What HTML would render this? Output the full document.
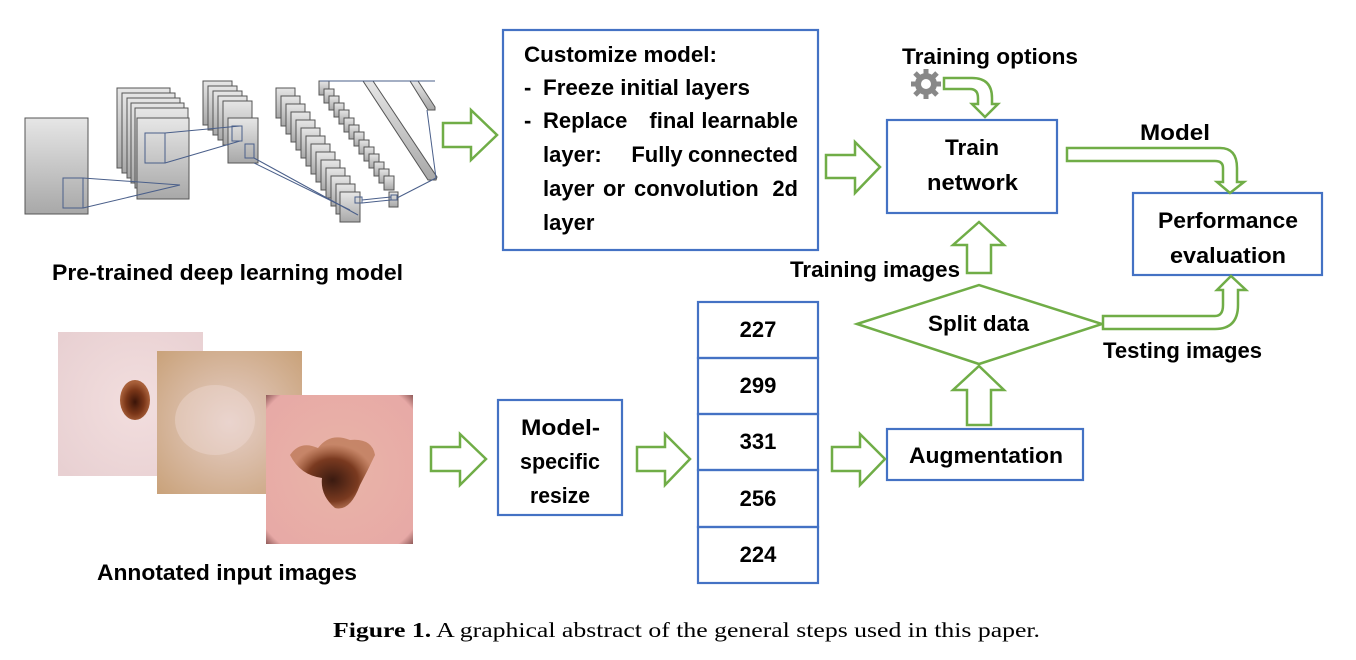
<!DOCTYPE html>
<html><head><meta charset="utf-8"><style>
html,body{margin:0;padding:0;background:#fff;}
svg{display:block}
text{font-family:"Liberation Sans",Arial,sans-serif;font-weight:bold;fill:#000;}
</style></head><body>
<svg width="1356" height="660" viewBox="0 0 1356 660" xmlns="http://www.w3.org/2000/svg">
<defs>
<linearGradient id="gr" x1="0" y1="0" x2="0" y2="1"><stop offset="0" stop-color="#e6e6e6"/><stop offset="1" stop-color="#a8a8a8"/></linearGradient>
<radialGradient id="s1" cx="0.55" cy="0.5" r="0.7"><stop offset="0" stop-color="#f2dede"/><stop offset="1" stop-color="#e8d0d2"/></radialGradient>
<radialGradient id="les1" cx="0.5" cy="0.55" r="0.5"><stop offset="0" stop-color="#3a1408"/><stop offset="0.6" stop-color="#7a3618"/><stop offset="1" stop-color="#a8603a"/></radialGradient>
<radialGradient id="s2" cx="0.5" cy="0.5" r="0.7"><stop offset="0" stop-color="#e6cfc8"/><stop offset="1" stop-color="#c9a27a"/></radialGradient>
<radialGradient id="s3" cx="0.5" cy="0.5" r="0.75"><stop offset="0" stop-color="#e9b5a8"/><stop offset="0.85" stop-color="#e7a9a6"/><stop offset="1" stop-color="#5a2a2a"/></radialGradient>
<radialGradient id="les3" cx="0.5" cy="0.6" r="0.5"><stop offset="0" stop-color="#3a1a10"/><stop offset="0.6" stop-color="#7a3a20"/><stop offset="1" stop-color="#b0683e" stop-opacity="0.6"/></radialGradient>
</defs>

<g stroke="#555" stroke-width="1" fill="url(#gr)">
<rect x="25" y="118" width="63" height="96"/>
<rect x="117" y="88" width="53" height="80"/><rect x="122" y="93" width="53" height="80"/><rect x="127" y="98" width="53" height="80"/><rect x="131" y="103" width="53" height="80"/><rect x="135" y="108" width="53" height="80"/><rect x="137" y="118" width="52" height="81"/>
<rect x="203" y="81" width="29" height="44"/><rect x="208" y="86" width="29" height="44"/><rect x="213" y="91" width="29" height="44"/><rect x="218" y="96" width="29" height="44"/><rect x="223" y="101" width="29" height="44"/><rect x="228" y="118" width="30" height="45"/>
<g>
<rect x="276" y="88" width="19" height="30"/><rect x="281" y="96" width="19" height="30"/><rect x="286" y="104" width="19" height="30"/><rect x="291" y="112" width="19" height="30"/><rect x="296" y="120" width="19" height="30"/><rect x="301" y="128" width="19" height="30"/><rect x="306" y="136" width="19" height="30"/><rect x="311" y="144" width="19" height="30"/><rect x="316" y="152" width="19" height="30"/><rect x="321" y="160" width="19" height="30"/><rect x="326" y="168" width="19" height="30"/><rect x="331" y="176" width="19" height="30"/><rect x="336" y="184" width="19" height="30"/><rect x="340" y="192" width="20" height="30"/>
</g>
<g>
<rect x="319" y="81" width="10" height="14"/><rect x="324" y="89" width="10" height="14"/><rect x="329" y="96" width="10" height="14"/><rect x="334" y="103" width="10" height="14"/><rect x="339" y="110" width="10" height="14"/><rect x="344" y="118" width="10" height="14"/><rect x="349" y="125" width="10" height="14"/><rect x="354" y="132" width="10" height="14"/><rect x="359" y="140" width="10" height="14"/><rect x="364" y="147" width="10" height="14"/><rect x="369" y="154" width="10" height="14"/><rect x="374" y="162" width="10" height="14"/><rect x="379" y="169" width="10" height="14"/><rect x="384" y="176" width="10" height="14"/><rect x="389" y="192" width="9" height="15"/>
</g>
<polygon points="363,81 373,81 437,177 436,180 428,180"/>
<polygon points="410,81 418,81 435,107 435,110 428,110"/>
</g>
<g stroke="#4a5f8a" stroke-width="1" fill="none">
<rect x="63" y="178" width="20" height="30"/>
<rect x="145" y="133" width="20" height="30"/>
<rect x="232" y="126" width="10" height="15"/><rect x="245" y="144" width="9" height="14"/>
<rect x="355" y="197" width="7" height="6"/><rect x="391" y="195" width="6" height="5"/>
<line x1="83" y1="178" x2="180" y2="185"/><line x1="83" y1="208" x2="180" y2="185"/>
<line x1="165" y1="133" x2="240" y2="126"/><line x1="165" y1="163" x2="240" y2="141"/>
<line x1="254" y1="158" x2="358" y2="215"/><line x1="254" y1="163" x2="350" y2="210"/>
<line x1="362" y1="200" x2="391" y2="197"/><line x1="362" y1="203" x2="391" y2="200"/>
<line x1="397" y1="198" x2="436" y2="178"/><line x1="427" y1="110" x2="436" y2="178"/>
<line x1="320" y1="81" x2="435" y2="81"/>
</g>

<rect x="58" y="332" width="145" height="144" fill="url(#s1)"/>
<ellipse cx="135" cy="400" rx="15" ry="20" fill="url(#les1)"/>
<rect x="157" y="351" width="145" height="143" fill="url(#s2)"/>
<ellipse cx="215" cy="420" rx="40" ry="35" fill="#efdcd6" opacity="0.4"/>
<rect x="266" y="395" width="147" height="149" fill="url(#s3)"/>
<path d="M290,455 Q300,440 318,448 Q330,432 350,440 Q372,438 375,455 Q368,470 360,485 Q350,512 335,508 Q320,495 322,478 Q300,475 290,455Z" fill="url(#les3)"/>

<g fill="none" stroke="#4472c4" stroke-width="2.2">
<rect x="503" y="30" width="315" height="220"/>
<rect x="887" y="120" width="170" height="93"/>
<rect x="1133" y="193" width="189" height="82"/>
<rect x="887" y="429" width="196" height="51"/>
<rect x="498" y="400" width="124" height="115"/>
<rect x="698" y="302" width="120" height="56"/><rect x="698" y="358" width="120" height="56"/><rect x="698" y="414" width="120" height="56"/><rect x="698" y="470" width="120" height="57"/><rect x="698" y="527" width="120" height="56"/>
</g>

<g fill="#fff" stroke="#70ad47" stroke-width="2.5" stroke-linejoin="miter">
<polygon points="443,123 471,123 471,110 497,135 471,160 471,147 443,147"/>
<polygon points="826,155 855,155 855,142 880,167 855,193 855,178 826,178"/>
<polygon points="431,447 460,447 460,434 486,459 460,485 460,471 431,471"/>
<polygon points="637,447 665,447 665,434 690,459 665,485 665,471 637,471"/>
<polygon points="832,447 860,447 860,434 885,459 860,485 860,471 832,471"/>
<polygon points="967,273 991,273 991,245 1004,245 979,222 953,245 967,245"/>
<polygon points="967,425 991,425 991,390 1004,390 979,366 953,390 967,390"/>
<polygon points="857,324 979,285 1102,324 979,364"/>
<path d="M944,78 L972,78 Q992,78 992,98 L992,104 L998,104 L985,117 L972,104 L978,104 L978,98 Q978,89 970,89 L944,89 Z"/>
<path d="M1067,148 L1220,148 Q1237,148 1237,168 L1237,182 L1244,182 L1230,193 L1217,182 L1223,182 L1223,168 Q1223,161 1215,161 L1067,161 Z"/>
<path d="M1103,316 L1215,316 Q1223,316 1223,305 L1223,290 L1217,290 L1231,276 L1246,290 L1238,290 L1238,305 Q1238,329 1215,329 L1103,329 Z"/>
</g>

<g fill="#888">
<circle cx="926" cy="84" r="11"/>
<g stroke="#888" stroke-width="5">
<line x1="926" y1="69" x2="926" y2="99"/><line x1="911" y1="84" x2="941" y2="84"/>
<line x1="915" y1="73" x2="937" y2="95"/><line x1="937" y1="73" x2="915" y2="95"/>
</g>
<circle cx="926" cy="84" r="5" fill="#fff"/>
</g>

<g font-size="22">
<text x="524" y="62" textLength="193" lengthAdjust="spacingAndGlyphs">Customize model:</text>
<text x="524" y="95">-</text><text x="543" y="95" textLength="207" lengthAdjust="spacingAndGlyphs">Freeze initial layers</text>
<text x="524" y="128">-</text>
<text x="543" y="128">Replace</text>
<text x="672" y="128" text-anchor="middle">final</text>
<text x="798" y="128" text-anchor="end">learnable</text>
<text x="543" y="162">layer:</text>
<text x="657" y="162" text-anchor="middle">Fully</text>
<text x="798" y="162" text-anchor="end">connected</text>
<text x="543" y="196">layer</text>
<text x="603" y="196">or</text>
<text x="634" y="196">convolution</text>
<text x="798" y="196" text-anchor="end">2d</text>
<text x="543" y="230">layer</text>
<text x="902" y="64" textLength="176" lengthAdjust="spacingAndGlyphs">Training options</text>
<text x="945" y="155" textLength="54" lengthAdjust="spacingAndGlyphs">Train</text>
<text x="927" y="190" textLength="91" lengthAdjust="spacingAndGlyphs">network</text>
<text x="1140" y="140" textLength="70" lengthAdjust="spacingAndGlyphs">Model</text>
<text x="1158" y="228" textLength="140" lengthAdjust="spacingAndGlyphs">Performance</text>
<text x="1170" y="263" textLength="116" lengthAdjust="spacingAndGlyphs">evaluation</text>
<text x="790" y="277" textLength="170" lengthAdjust="spacingAndGlyphs">Training images</text>
<text x="928" y="331" textLength="101" lengthAdjust="spacingAndGlyphs">Split data</text>
<text x="1103" y="358" textLength="159" lengthAdjust="spacingAndGlyphs">Testing images</text>
<text x="909" y="463" textLength="154" lengthAdjust="spacingAndGlyphs">Augmentation</text>
<text x="521" y="435" textLength="79" lengthAdjust="spacingAndGlyphs">Model-</text>
<text x="520" y="469" textLength="80" lengthAdjust="spacingAndGlyphs">specific</text>
<text x="530" y="503" textLength="60" lengthAdjust="spacingAndGlyphs">resize</text>
<text x="758" y="337" text-anchor="middle">227</text>
<text x="758" y="393" text-anchor="middle">299</text>
<text x="758" y="449" text-anchor="middle">331</text>
<text x="758" y="506" text-anchor="middle">256</text>
<text x="758" y="562" text-anchor="middle">224</text>
<text x="52" y="280" textLength="351" lengthAdjust="spacingAndGlyphs">Pre-trained deep learning model</text>
<text x="97" y="580" textLength="260" lengthAdjust="spacingAndGlyphs">Annotated input images</text>
</g>
<text x="333" y="637" font-size="21" textLength="707" lengthAdjust="spacingAndGlyphs" style="font-family:'Liberation Serif',serif"><tspan font-weight="bold">Figure 1.</tspan><tspan font-weight="normal"> A graphical abstract of the general steps used in this paper.</tspan></text>
</svg>
</body></html>
